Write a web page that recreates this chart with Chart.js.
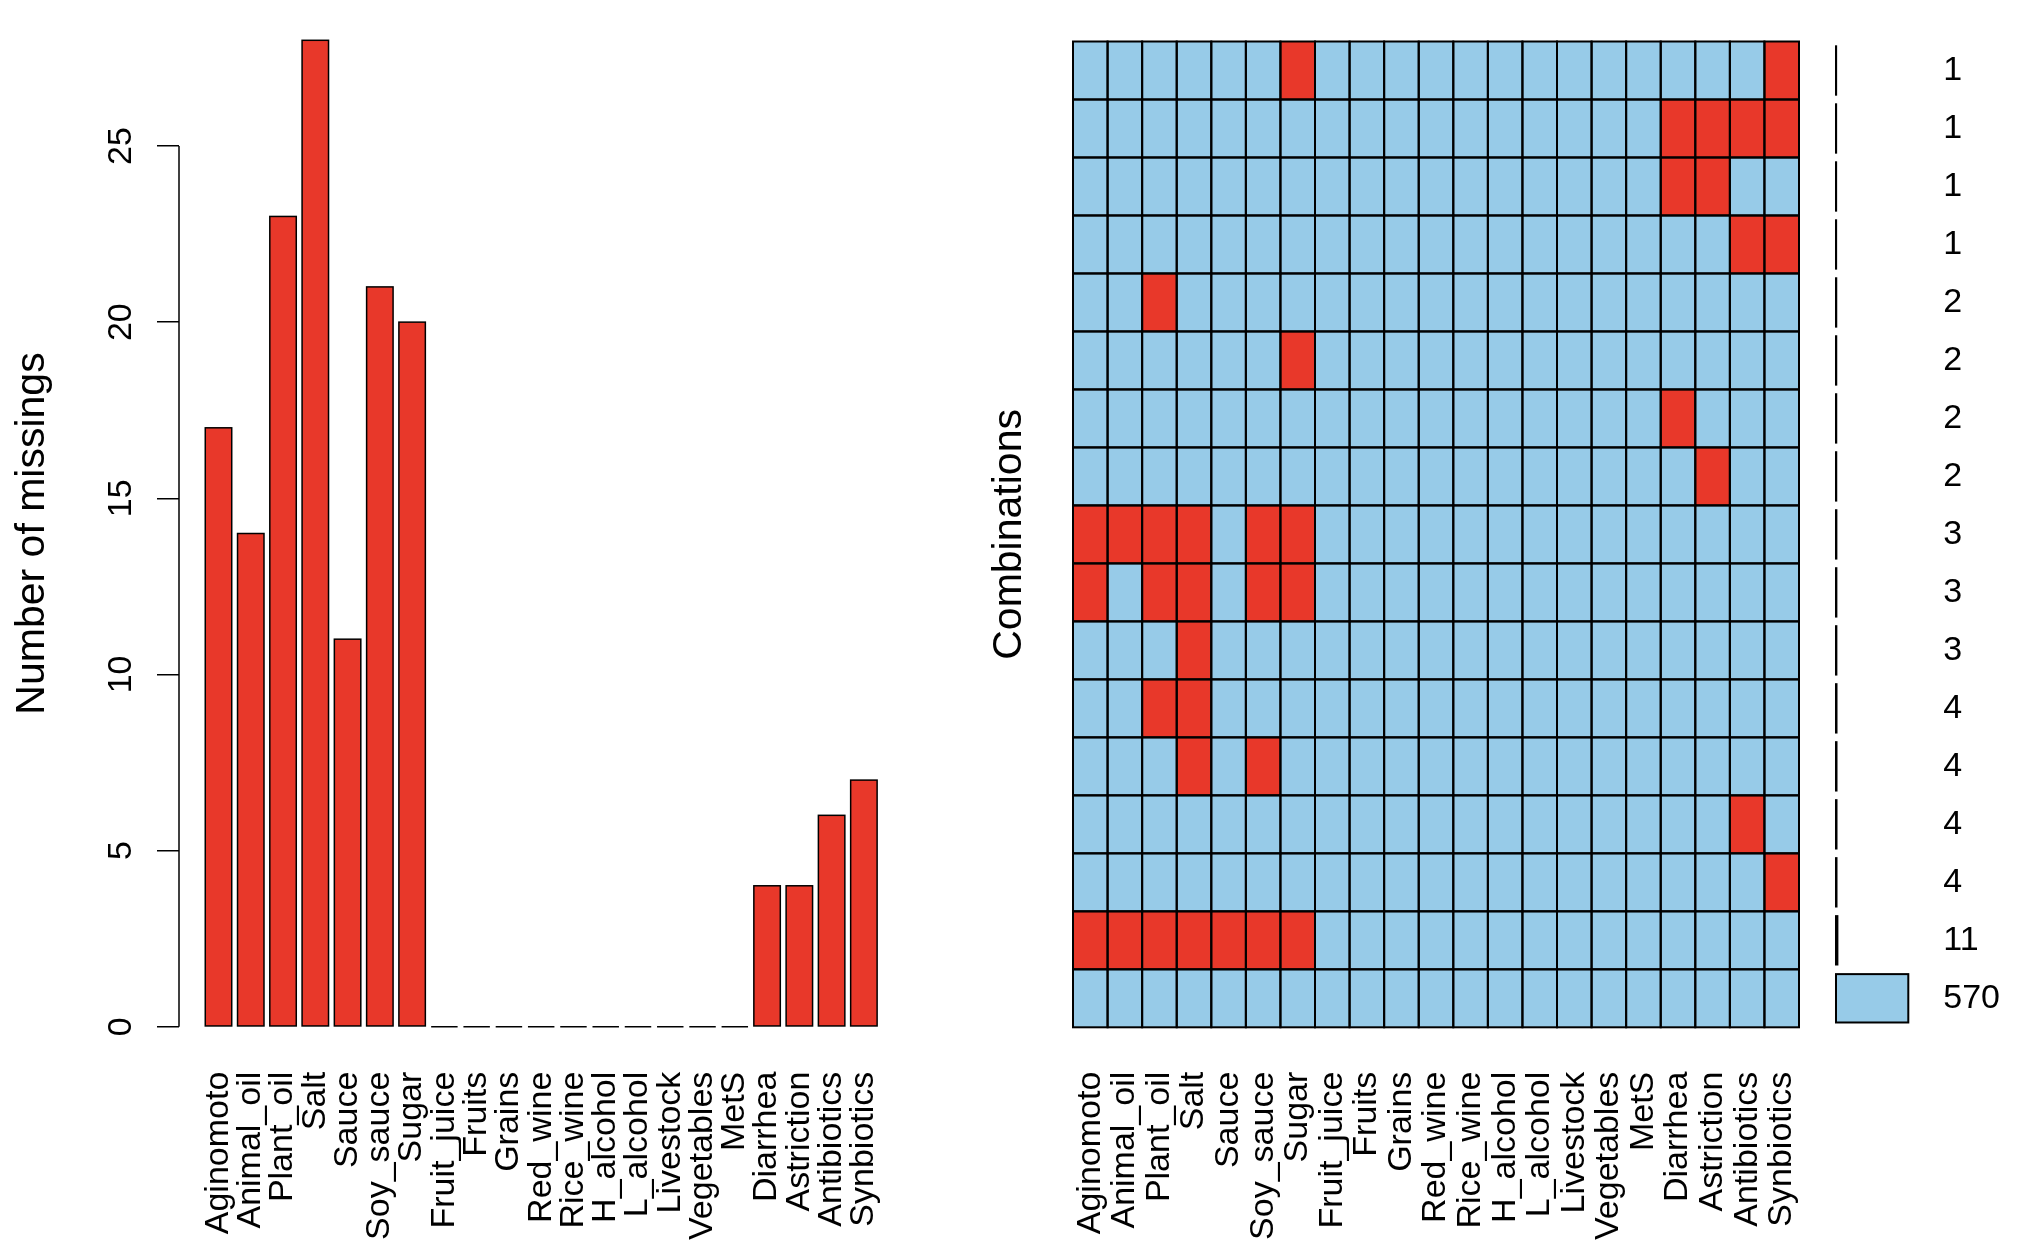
<!DOCTYPE html>
<html>
<head>
<meta charset="utf-8">
<title>Missing values – aggregation plot</title>
<script src="https://cdn.jsdelivr.net/npm/chart.js@4.4.1/dist/chart.umd.min.js"></script>
<style>
  html, body { margin: 0; padding: 0; background: #fff; }
  #wrap { position: relative; width: 2030px; height: 1244px; overflow: hidden; }
  #wrap canvas { position: absolute; top: 0; }
</style>
</head>
<body>
<div id="wrap">
  <canvas id="missChart" width="910" height="1244" style="left:0"></canvas>
  <canvas id="comboChart" width="880" height="1244" style="left:940px"></canvas>
  <canvas id="freqChart" width="220" height="1244" style="left:1810px"></canvas>
</div>
<script>
/* global Chart */
(function () {
  'use strict';

  var varNames = ['Aginomoto', 'Animal_oil', 'Plant_oil', 'Salt', 'Sauce', 'Soy_sauce', 'Sugar',
    'Fruit_juice', 'Fruits', 'Grains', 'Red_wine', 'Rice_wine', 'H_alcohol', 'L_alcohol',
    'Livestock', 'Vegetables', 'MetS', 'Diarrhea', 'Astriction', 'Antibiotics', 'Synbiotics'];

  // pocet chybejicich hodnot na promennou
  var missCounts = [17, 14, 23, 28, 11, 21, 20, 0, 0, 0, 0, 0, 0, 0, 0, 0, 0, 4, 4, 6, 7];
  var yTicks = [0, 5, 10, 15, 20, 25];

  // kombinace chybejicich promennych, shora dolu
  var comboMissing = [
    ['Sugar', 'Synbiotics'],
    ['Diarrhea', 'Astriction', 'Antibiotics', 'Synbiotics'],
    ['Diarrhea', 'Astriction'],
    ['Antibiotics', 'Synbiotics'],
    ['Plant_oil'],
    ['Sugar'],
    ['Diarrhea'],
    ['Astriction'],
    ['Aginomoto', 'Animal_oil', 'Plant_oil', 'Salt', 'Soy_sauce', 'Sugar'],
    ['Aginomoto', 'Plant_oil', 'Salt', 'Soy_sauce', 'Sugar'],
    ['Salt'],
    ['Plant_oil', 'Salt'],
    ['Salt', 'Soy_sauce'],
    ['Antibiotics'],
    ['Synbiotics'],
    ['Aginomoto', 'Animal_oil', 'Plant_oil', 'Salt', 'Sauce', 'Soy_sauce', 'Sugar'],
    []
  ];
  var comboCounts = [1, 1, 1, 1, 2, 2, 2, 2, 3, 3, 3, 4, 4, 4, 4, 11, 570];

  var RED  = '#e8382a';
  var BLUE = '#97cbe8';

  Chart.defaults.font.family = "'Liberation Sans', Arial, Helvetica, sans-serif";
  Chart.defaults.color = '#000';

  // R kresli obrys kazdeho obdelniku, i nulove vysky
  var outlineBars = {
    id: 'outlineBars',
    afterDatasetsDraw: function (chart, args, opts) {
      var ctx = chart.ctx;
      ctx.save();
      ctx.strokeStyle = '#000';
      ctx.lineWidth = opts.lineWidth || 1.5;
      chart.data.datasets.forEach(function (ds, i) {
        chart.getDatasetMeta(i).data.forEach(function (bar) {
          var p = bar.getProps(['x', 'y', 'base', 'width', 'height', 'horizontal'], true);
          if (p.horizontal) {
            ctx.strokeRect(Math.min(p.x, p.base), p.y - p.height / 2, Math.abs(p.x - p.base), p.height);
          } else {
            ctx.strokeRect(p.x - p.width / 2, Math.min(p.y, p.base), p.width, Math.abs(p.base - p.y));
          }
        });
      });
      ctx.restore();
    }
  };

  // osa jen od prvniho do posledniho ticku
  var rAxisLine = {
    id: 'rAxisLine',
    afterDraw: function (chart) {
      var ctx = chart.ctx;
      var y = chart.scales.y;
      var x = chart.chartArea.left;
      ctx.save();
      ctx.strokeStyle = '#000';
      ctx.lineWidth = 1.5;
      ctx.beginPath();
      ctx.moveTo(x, y.getPixelForValue(yTicks[0]));
      ctx.lineTo(x, y.getPixelForValue(yTicks[yTicks.length - 1]));
      ctx.stroke();
      ctx.restore();
    }
  };

  // pevna velikost osy, bez presahu popisku do plochy grafu
  function fixSize(w, h) {
    return function (s) {
      if (w !== null) s.width = w;
      if (h !== null) s.height = h;
      s.paddingLeft = s.paddingRight = s.paddingTop = s.paddingBottom = 0;
    };
  }

  var common = {
    responsive: false,
    animation: false,
    devicePixelRatio: 1,
    events: []
  };

  function rotatedTicks(pad) {
    return {
      autoSkip: false,
      minRotation: 90,
      maxRotation: 90,
      padding: pad,
      font: { size: 34 },
      color: '#000'
    };
  }

  // levy graf – pocet chybejicich
  var missTicks = rotatedTicks(45);
  missTicks.callback = function (v) { return varNames[v]; };

  new Chart(document.getElementById('missChart'), {
    type: 'bar',
    data: {
      datasets: [{
        data: missCounts.map(function (v, i) { return { x: i, y: v }; }),
        backgroundColor: RED,
        borderWidth: 0,
        barPercentage: 0.82,
        categoryPercentage: 1
      }]
    },
    options: Object.assign({}, common, {
      layout: { padding: { top: 40.3, right: 20.3, bottom: 0, left: 0 } },
      plugins: {
        legend: { display: false },
        tooltip: { enabled: false },
        outlineBars: { lineWidth: 1.5 }
      },
      scales: {
        x: {
          type: 'linear',
          offset: false,
          min: -1.224,
          max: 20.8,
          grid: { display: false, drawTicks: false },
          border: { display: false },
          afterBuildTicks: function (s) { s.ticks = varNames.map(function (n, i) { return { value: i }; }); },
          afterFit: fixSize(null, 217.3),
          ticks: missTicks
        },
        y: {
          min: 0,
          max: 28,
          grid: { drawOnChartArea: false, drawTicks: true, tickLength: 22, color: '#000', lineWidth: 1.5 },
          border: { display: false },
          afterBuildTicks: function (s) { s.ticks = yTicks.map(function (v) { return { value: v }; }); },
          afterFit: fixSize(179, null),
          ticks: { minRotation: 90, maxRotation: 90, crossAlign: 'center', padding: 16.6, font: { size: 34 }, color: '#000' },
          title: { display: true, text: 'Number of missings', font: { size: 41 }, color: '#000', padding: { top: 8.5, bottom: 0 } }
        }
      }
    }),
    plugins: [outlineBars, rAxisLine]
  });

  // prostredni graf – vzory kombinaci
  var comboDatasets = comboMissing.map(function (miss) {
    return {
      data: varNames.map(function () { return 1; }),
      backgroundColor: varNames.map(function (n) { return miss.indexOf(n) >= 0 ? RED : BLUE; }),
      borderWidth: 0,
      barPercentage: 1,
      categoryPercentage: 1
    };
  });

  new Chart(document.getElementById('comboChart'), {
    type: 'bar',
    data: { labels: varNames, datasets: comboDatasets },
    options: Object.assign({}, common, {
      layout: { padding: { top: 41.5, right: 21, bottom: 0, left: 0 } },
      plugins: {
        legend: { display: false },
        tooltip: { enabled: false },
        outlineBars: { lineWidth: 2 }
      },
      scales: {
        x: {
          stacked: true,
          grid: { display: false, drawTicks: false },
          border: { display: false },
          afterFit: fixSize(null, 216.7),
          ticks: rotatedTicks(44.4)
        },
        y: {
          stacked: true,
          min: 0,
          max: comboMissing.length,
          reverse: true,
          grid: { display: false, drawTicks: false },
          border: { display: false },
          ticks: { display: false },
          afterFit: fixSize(133, null),
          title: { display: true, text: 'Combinations', font: { size: 41 }, color: '#000', padding: { top: 45.5, bottom: 0 } }
        }
      }
    }),
    plugins: [outlineBars]
  });

  // pravy graf – cetnosti kombinaci
  new Chart(document.getElementById('freqChart'), {
    type: 'bar',
    data: {
      labels: comboCounts.map(String),
      datasets: [{
        data: comboCounts,
        backgroundColor: BLUE,
        borderWidth: 0,
        barPercentage: 0.834,
        categoryPercentage: 1
      }]
    },
    options: Object.assign({}, common, {
      indexAxis: 'y',
      layout: { padding: { top: 41.5, right: 0, bottom: 216.7, left: 26 } },
      plugins: {
        legend: { display: false },
        tooltip: { enabled: false },
        outlineBars: { lineWidth: 2 }
      },
      scales: {
        x: { display: false, min: 0, max: comboCounts[comboCounts.length - 1] },
        y: {
          position: 'right',
          grid: { display: false, drawTicks: false },
          border: { display: false },
          afterFit: fixSize(121.7, null),
          ticks: { padding: 35, font: { size: 34 }, color: '#000' }
        }
      }
    }),
    plugins: [outlineBars]
  });
})();
</script>
</body>
</html>
